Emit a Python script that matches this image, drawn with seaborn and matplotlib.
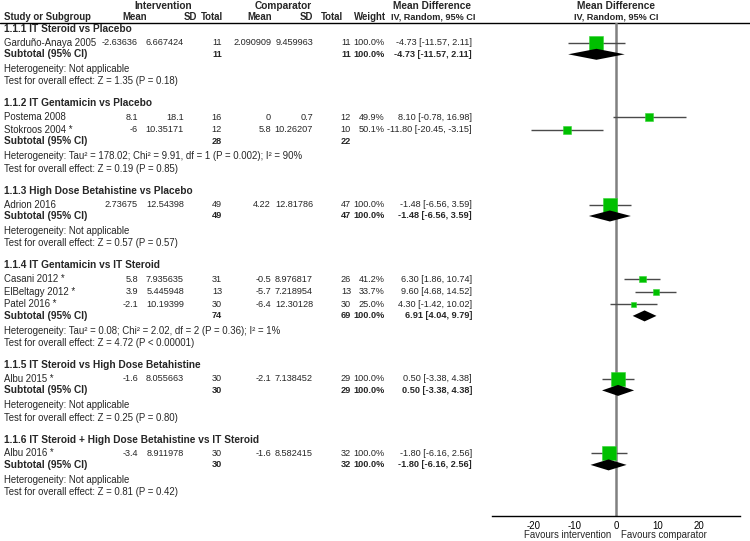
import numpy as np
import pandas as pd
import matplotlib
matplotlib.use("Agg")
import matplotlib.pyplot as plt
import seaborn as sns

sns.set_style("white")
plt.rcParams["font.family"] = ["Liberation Sans", "DejaVu Sans"]

# subgroups
group_titles = [
    "1.1.1 IT Steroid vs Placebo",
    "1.1.2 IT Gentamicin vs Placebo",
    "1.1.3 High Dose Betahistine vs Placebo",
    "1.1.4 IT Gentamicin vs IT Steroid",
    "1.1.5 IT Steroid vs High Dose Betahistine",
    "1.1.6 IT Steroid + High Dose Betahistine vs IT Steroid",
]
group_sizes = [1, 2, 1, 3, 1, 1]

# studies
study_names = ["Garduño-Anaya 2005", "Postema 2008", "Stokroos 2004 *", "Adrion 2016",
               "Casani 2012 *", "ElBeltagy 2012 *", "Patel 2016 *", "Albu 2015 *", "Albu 2016 *"]
int_mean = [-2.63636, 8.1, -6, 2.73675, 5.8, 3.9, -2.1, -1.6, -3.4]
int_sd = [6.667424, 18.1, 10.35171, 12.54398, 7.935635, 5.445948, 10.19399, 8.055663, 8.911978]
int_n = [11, 16, 12, 49, 31, 13, 30, 30, 30]
cmp_mean = [2.090909, 0, 5.8, 4.22, -0.5, -5.7, -6.4, -2.1, -1.6]
cmp_sd = [9.459963, 0.7, 10.26207, 12.81786, 8.976817, 7.218954, 12.30128, 7.138452, 8.582415]
cmp_n = [11, 12, 10, 47, 26, 13, 30, 29, 32]
weights = [100.0, 49.9, 50.1, 100.0, 41.2, 33.7, 25.0, 100.0, 100.0]
md = [-4.73, 8.10, -11.80, -1.48, 6.30, 9.60, 4.30, 0.50, -1.80]
ci_lo = [-11.57, -0.78, -20.45, -6.56, 1.86, 4.68, -1.42, -3.38, -6.16]
ci_hi = [2.11, 16.98, -3.15, 3.59, 10.74, 14.52, 10.02, 4.38, 2.56]

# subtotals (1.1.2 has no pooled estimate)
sub_int_n = [11, 28, 49, 74, 30, 30]
sub_cmp_n = [11, 22, 47, 69, 29, 32]
sub_weight = [100.0, np.nan, 100.0, 100.0, 100.0, 100.0]
sub_md = [-4.73, np.nan, -1.48, 6.91, 0.50, -1.80]
sub_lo = [-11.57, np.nan, -6.56, 4.04, -3.38, -6.16]
sub_hi = [2.11, np.nan, 3.59, 9.79, 4.38, 2.56]
het_text = [
    "Heterogeneity: Not applicable",
    "Heterogeneity: Tau² = 178.02; Chi² = 9.91, df = 1 (P = 0.002); I² = 90%",
    "Heterogeneity: Not applicable",
    "Heterogeneity: Tau² = 0.08; Chi² = 2.02, df = 2 (P = 0.36); I² = 1%",
    "Heterogeneity: Not applicable",
    "Heterogeneity: Not applicable",
]
test_text = [
    "Test for overall effect: Z = 1.35 (P = 0.18)",
    "Test for overall effect: Z = 0.19 (P = 0.85)",
    "Test for overall effect: Z = 0.57 (P = 0.57)",
    "Test for overall effect: Z = 4.72 (P < 0.00001)",
    "Test for overall effect: Z = 0.25 (P = 0.80)",
    "Test for overall effect: Z = 0.81 (P = 0.42)",
]
x_ticks = [-20, -10, 0, 10, 20]

W, H = 750, 541
FS_NUM = 6.6    # numbers
FS_TXT = 6.9    # labels
FS_BIG = 7.3    # bold titles
GREEN = "#00C000"

fig = plt.figure(figsize=(W / 100, H / 100), dpi=100)
ax = fig.add_axes([0, 0, 1, 1])
ax.set_xlim(0, W)
ax.set_ylim(H, 0)
ax.axis("off")

top, bottom = 23, 516
left, right = 492, 740
fax = fig.add_axes([left / W, (H - bottom) / H, (right - left) / W, (bottom - top) / H])
fax.set_xlim(-30, 30)
fax.set_ylim(bottom, top)
fax.patch.set_alpha(0)


def txt(x, y, s, ha="left", bold=False, fs=FS_TXT):
    ax.text(x, y, s, ha=ha, va="center", fontsize=fs,
            fontweight="bold" if bold else "normal")


def num(v):
    return f"{v:.10g}"


# column headers
for x, s in [(163, "Intervention"), (283, "Comparator"), (432, "Mean Difference"), (616, "Mean Difference")]:
    txt(x, 6, s, ha="center", bold=True, fs=FS_BIG)
txt(4, 17, "Study or Subgroup", bold=True, fs=FS_TXT)
for x, s in [(147, "Mean"), (197, "SD"), (223, "Total"), (272, "Mean"), (313, "SD"), (343, "Total"), (386, "Weight")]:
    txt(x, 17, s, ha="right", bold=True, fs=FS_TXT)
txt(433, 17, "IV, Random, 95% CI", ha="center", bold=True, fs=FS_NUM)
txt(616, 17, "IV, Random, 95% CI", ha="center", bold=True, fs=FS_NUM)
ax.plot([0, W], [top, top], color="black", lw=1)

# layout rows
study_y, sub_y = [], []
y = 29
k = 0
for g, title in enumerate(group_titles):
    txt(4, y, title, bold=True, fs=FS_BIG)
    y += 13.8
    for i in range(group_sizes[g]):
        study_y.append(y)
        txt(4, y, study_names[k])
        txt(138, y, num(int_mean[k]), ha="right", fs=FS_NUM)
        txt(184, y, num(int_sd[k]), ha="right", fs=FS_NUM)
        txt(222, y, str(int_n[k]), ha="right", fs=FS_NUM)
        txt(271, y, num(cmp_mean[k]), ha="right", fs=FS_NUM)
        txt(313, y, num(cmp_sd[k]), ha="right", fs=FS_NUM)
        txt(351, y, str(cmp_n[k]), ha="right", fs=FS_NUM)
        txt(385, y, f"{weights[k]:.1f}%", ha="right", fs=FS_NUM)
        txt(472, y, f"{md[k]:.2f} [{ci_lo[k]:.2f}, {ci_hi[k]:.2f}]", ha="right", fs=FS_NUM)
        k += 1
        y += 12.7
    y += 11.5 - 12.7
    sub_y.append(y)
    txt(4, y, "Subtotal (95% CI)", bold=True, fs=FS_BIG)
    txt(222, y, str(sub_int_n[g]), ha="right", bold=True, fs=FS_NUM)
    txt(351, y, str(sub_cmp_n[g]), ha="right", bold=True, fs=FS_NUM)
    if not np.isnan(sub_md[g]):
        txt(385, y, f"{sub_weight[g]:.1f}%", ha="right", bold=True, fs=FS_NUM)
        txt(472, y, f"{sub_md[g]:.2f} [{sub_lo[g]:.2f}, {sub_hi[g]:.2f}]", ha="right", bold=True, fs=FS_NUM)
    y += 14.7
    txt(4, y, het_text[g])
    y += 12.5
    txt(4, y, test_text[g])
    y += 22

# forest panel
fax.axvline(0, color="#808080", lw=1.8, zorder=1)
df = pd.DataFrame({"md": md, "lo": ci_lo, "hi": ci_hi, "w": weights, "y": study_y})
df["box"] = (2 + 12 * df["w"] / 100) * 0.72
fax.hlines(df["y"], df["lo"], df["hi"], color="#4a4a4a", lw=1, zorder=2)
sns.scatterplot(data=df, x="md", y="y", size="box", sizes={b: b ** 2 for b in df["box"]},
                marker="s", color=GREEN, edgecolor="#33D633", linewidth=0.4,
                legend=False, zorder=3, ax=fax)

for g in range(len(group_titles)):
    if np.isnan(sub_md[g]):
        continue
    yy = sub_y[g]
    fax.fill([sub_lo[g], sub_md[g], sub_hi[g], sub_md[g]], [yy, yy - 5.5, yy, yy + 5.5],
             color="black", lw=0, zorder=4)

fax.set_xticks(x_ticks)
fax.set_xticklabels([str(t) for t in x_ticks], fontsize=FS_TXT)
fax.set_yticks([])
fax.set_xlabel("")
fax.set_ylabel("")
for s in ["top", "left", "right"]:
    fax.spines[s].set_visible(False)
fax.spines["bottom"].set_color("black")
fax.spines["bottom"].set_linewidth(1)
fax.tick_params(axis="x", direction="inout", length=5, width=0.8, pad=1, colors="black")

txt(611, 535, "Favours intervention", ha="right")
txt(621, 535, "Favours comparator")

fig.savefig("out.png", dpi=100)
